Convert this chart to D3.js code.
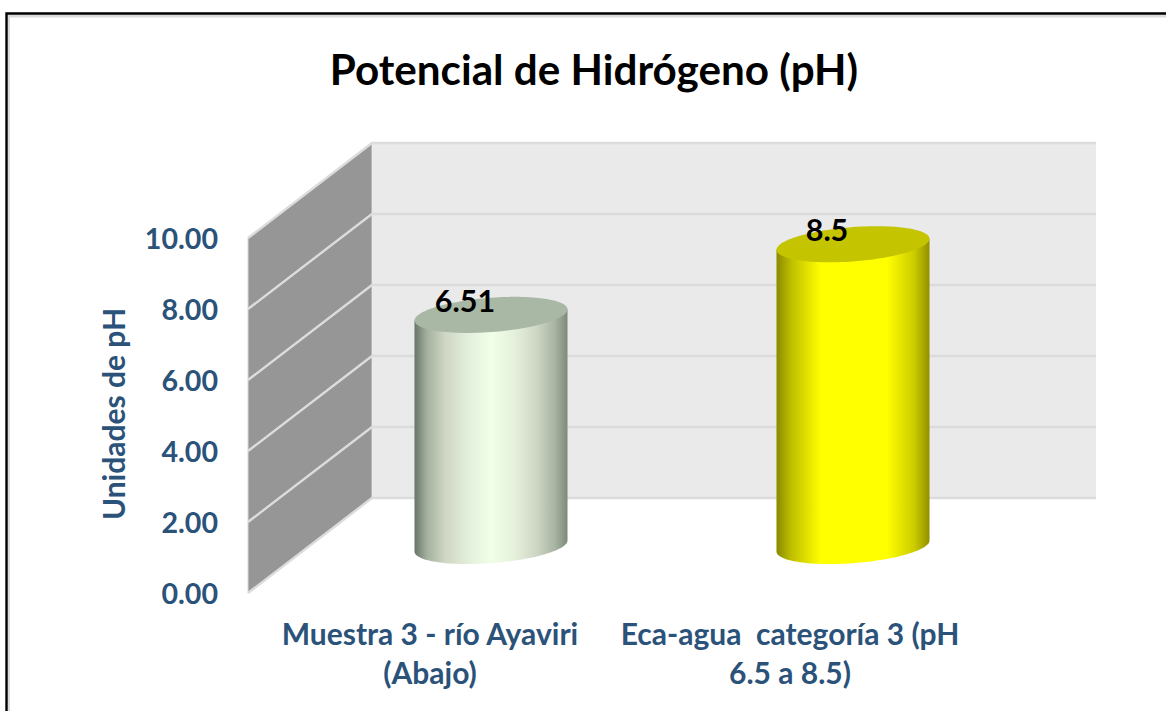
<!DOCTYPE html>
<html><head><meta charset="utf-8">
<script src="https://cdn.jsdelivr.net/npm/d3@7"></script>
<style>html,body{margin:0;padding:0;background:#fff;overflow:hidden}svg{display:block}text{font-family:Lato,sans-serif;font-weight:700}</style>
</head><body><svg id="c" width="1166" height="711"></svg>
<script>
const chartTitle = "Potencial de Hidrógeno (pH)";
const yTitle = "Unidades de pH";
const categories = ["Muestra 3 - río Ayaviri|(Abajo)", "Eca-agua  categoría 3 (pH|6.5 a 8.5)"];
const values = [6.51, 8.5];
const valueLabels = ["6.51", "8.5"];
const tickValues = [0, 2, 4, 6, 8, 10];
const sideColors = [
  [[0,"#667568"],[.08,"#a3b09f"],[.2,"#cfd6c3"],[.35,"#e3efdb"],[.5,"#f0ffe8"],[.65,"#e6f1dc"],[.8,"#cdd6c3"],[.92,"#a8b3a2"],[1,"#7c897a"]],
  [[0,"#8a8a00"],[.1,"#c0c000"],[.29,"#ffff00"],[.72,"#ffff00"],[.9,"#cccc00"],[1,"#8f8f00"]]
];
const topColors = ["#a9b8a5", "#c4c400"];

const svg = d3.select("#c");
const dx = 124, dy = 95;                 // depth of the 3D box
const y = d3.scaleLinear().domain([0,10]).range([593,238]);
const x = d3.scaleBand().domain(categories).range([248,972]);
const backRight = 1096;

// frame
svg.append("path").attr("d","M8.5,711V16H1166").attr("fill","none").attr("stroke","#dcdcdc").attr("stroke-width",3);
svg.append("path").attr("d","M6.5,711V13.5H1166").attr("fill","none").attr("stroke","#000").attr("stroke-width",2.4);

// title
svg.append("text").attr("x",594).attr("y",85).attr("text-anchor","middle")
  .attr("font-size",42.2).attr("fill","#000").text(chartTitle);

// walls
const x0 = x.range()[0], yB = y(0), yT = y(10);
svg.append("path").attr("d",`M${x0},${yB}L${x0+dx},${yB-dy}V${yT-dy}L${x0},${yT}Z`)
  .attr("fill","#969696").attr("stroke","#d9d9d9").attr("stroke-width",1);
svg.append("rect").attr("x",x0+dx).attr("y",yT-dy).attr("width",backRight-x0-dx).attr("height",yB-yT)
  .attr("fill","#eaeaea");
const grid = svg.append("g").attr("stroke","#dcdcdc").attr("stroke-width",2.4).attr("fill","none");
tickValues.forEach(t=>{
  grid.append("path").attr("d",`M${x0},${y(t)}L${x0+dx},${y(t)-dy}H${backRight}`);
});

// axis
const ax = svg.append("g").attr("transform",`translate(${x0-30},1)`)
  .call(d3.axisLeft(y).tickValues(tickValues).tickFormat(d3.format(".2f")).tickSize(0).tickPadding(0));
ax.select(".domain").remove();
ax.selectAll("text").attr("font-family","Lato,sans-serif").attr("font-size",28.6).attr("font-weight",700).attr("fill","#2b5279");

svg.append("text").attr("transform","translate(125,414) rotate(-90)").attr("text-anchor","middle")
  .attr("font-size",30).attr("fill","#2b5279").text(yTitle);

// category labels
const catCx = [430, 790];
categories.forEach((c,i)=>{
  c.split("|").forEach((l,j)=>{
    svg.append("text").attr("x",catCx[i]).attr("y",645+j*39).attr("text-anchor","middle")
      .attr("font-size",30).attr("fill","#2b5279").style("white-space","pre").text(l);
  });
});

// cylinders
const defs = svg.append("defs");
const halfW = 76.5, dr = 0.19;
const ux = Math.sqrt(halfW*halfW-(dr*dx)*(dr*dx));
const point = (cx,cy,t)=>[cx+Math.cos(t)*ux+Math.sin(t)*dr*dx, cy-Math.sin(t)*dr*dy];
const t0 = Math.atan2(dr*dx,ux);
const line = d3.line();
const baseShift = 47;
values.forEach((v,i)=>{
  const cx = x(categories[i])+x.bandwidth()/2+dx/2;
  const cyB = y(0)-baseShift, cyT = y(v)-baseShift;
  const g = defs.append("linearGradient").attr("id","g"+i);
  sideColors[i].forEach(s=>g.append("stop").attr("offset",s[0]).attr("stop-color",s[1]));
  const arc = d3.range(0,61).map(k=>point(cx,cyB,t0-Math.PI*k/60)); // lower half of the base
  const side = [point(cx,cyT,t0),...arc,point(cx,cyT,t0-Math.PI)];
  svg.append("path").attr("d",line(side)+"Z").attr("fill",`url(#g${i})`);
  const top = d3.range(0,121).map(k=>point(cx,cyT,2*Math.PI*k/120));
  svg.append("path").attr("d",line(top)+"Z").attr("fill",topColors[i]);
  svg.append("text").attr("x",cx-26).attr("y",cyT-3).attr("text-anchor","middle")
    .attr("font-size",30.5).attr("fill","#000").text(valueLabels[i]);
});
</script></body></html>
